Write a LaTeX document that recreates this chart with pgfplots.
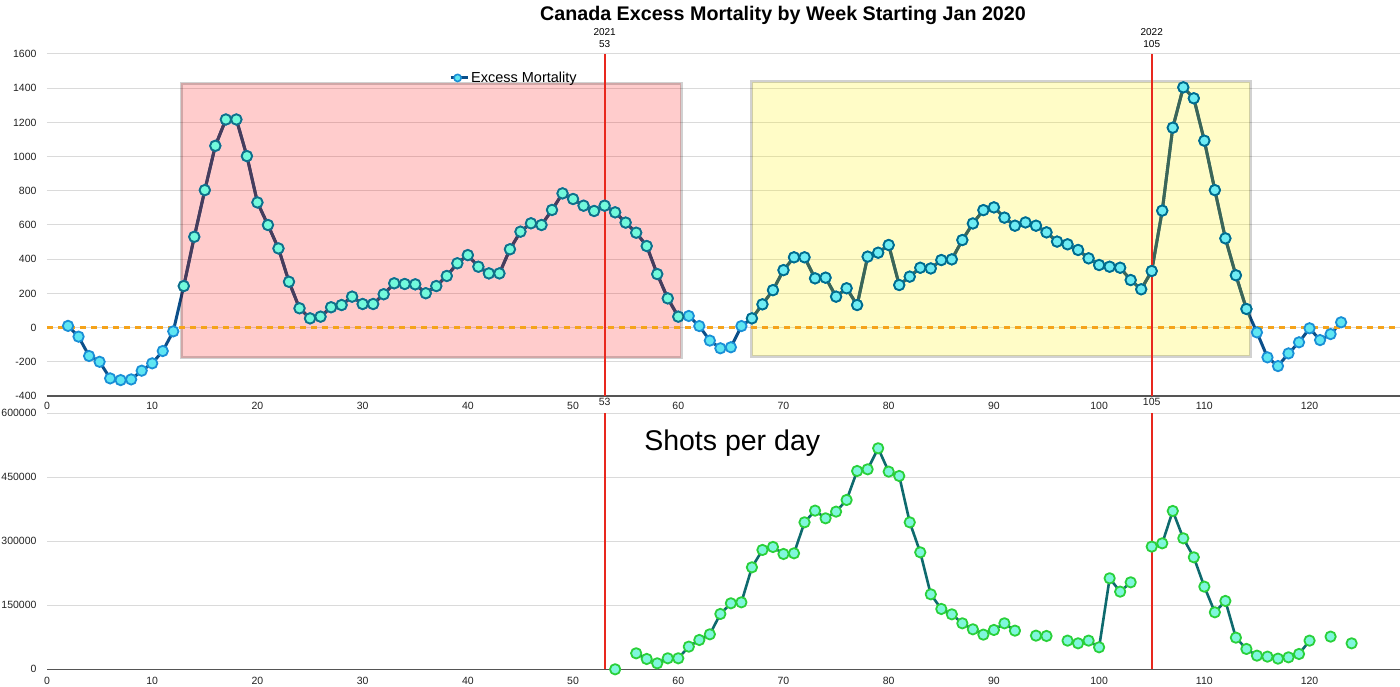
\documentclass[border=0pt]{standalone}
\usepackage{fontspec}
\setmainfont{Liberation Sans}
\usepackage{pgfplots}
\pgfplotsset{compat=1.18}
\usepackage{pgfplotstable}

\definecolor{lineblue}{HTML}{0B4F8A}
\definecolor{cyanfill}{HTML}{5EE6F2}
\definecolor{markedge}{HTML}{1A8FD6}
\definecolor{pinkline}{HTML}{184D75}
\definecolor{pinkfill}{HTML}{72FADC}
\definecolor{pinkedge}{HTML}{107089}
\definecolor{yelline}{HTML}{053F73}
\definecolor{yelfill}{HTML}{6EECF4}
\definecolor{yeledge}{HTML}{006C8D}
\definecolor{shotline}{HTML}{0E6A6E}
\definecolor{shotfill}{HTML}{7FF7DC}
\definecolor{shotedge}{HTML}{2AD03A}
\definecolor{axisgray}{HTML}{555555}
\definecolor{gridgray}{HTML}{DADADA}
\definecolor{tickgray}{HTML}{222222}
\definecolor{vred}{HTML}{E8281E}
\definecolor{zeroorange}{HTML}{F5A31A}

\pgfplotstableread{
w v
2 10
3 -53
4 -166
5 -200
6 -297
7 -307
8 -303
9 -252
10 -209
11 -137
12 -22
13 243
14 531
15 804
16 1063
17 1217
18 1217
19 1003
20 732
21 600
22 463
23 268
24 113
25 54
26 64
27 119
28 132
29 181
30 138
31 138
32 195
33 259
34 255
35 253
36 201
37 243
38 302
39 376
40 424
41 356
42 317
43 317
44 458
45 561
46 610
47 600
48 688
49 785
50 752
51 713
52 682
53 713
54 674
55 614
56 555
57 477
58 313
59 171
60 64
61 68
62 9
63 -76
64 -121
65 -115
66 9
67 54
68 136
69 219
70 336
71 411
72 411
73 288
74 292
75 181
76 230
77 132
78 415
79 438
80 483
81 249
82 298
83 350
84 346
85 395
86 399
87 512
88 609
89 687
90 703
91 643
92 596
93 615
94 596
95 557
96 503
97 487
98 454
99 405
100 366
101 356
102 350
103 278
104 224
105 331
106 684
107 1169
108 1405
109 1341
110 1093
111 804
112 522
113 306
114 109
115 -28
116 -174
117 -225
118 -151
119 -86
120 -4
121 -73
122 -38
123 31
}\mortality

\pgfplotstableread{
w v
54 0
55 nan
56 37500
57 24200
58 14000
59 25800
60 25800
61 53100
62 68750
63 82000
64 129700
65 154700
66 157000
67 239000
68 279700
69 286700
70 270300
71 271900
72 344500
73 371900
74 353900
75 369500
76 396900
77 464800
78 468750
79 518000
80 463300
81 453100
82 344500
83 274200
84 175800
85 141400
86 128900
87 107800
88 93750
89 81250
90 92200
91 107800
92 90600
93 nan
94 78900
95 78100
96 nan
97 67200
98 60900
99 67200
100 51600
101 213300
102 182000
103 203900
104 nan
105 287500
106 295300
107 371100
108 307000
109 262500
110 193750
111 133600
112 160200
113 74200
114 47700
115 32000
116 29700
117 25000
118 28100
119 35900
120 67200
121 nan
122 76600
123 nan
124 60900
}\shots

\pgfplotsset{
  common/.style={
    scale only axis,
    width=1353pt,
    xmin=0, xmax=128.6,
    xtick={0,10,...,120},
    xticklabels={0,10,20,30,40,50,60,70,80,90,100,110,120},
    axis lines=left,
    axis line style={-},
    y axis line style={draw=none},
    x axis line style={draw=axisgray, line width=1.6pt},
    major tick length=0pt,
    ymajorgrids,
    grid style={draw=gridgray, line width=1pt},
    tick label style={font=\fontsize{10.5}{12}\selectfont, text=tickgray},
    yticklabel style={xshift=-7pt},
    scaled y ticks=false,
    clip=false,
    unbounded coords=jump,
  },
  mline/.style 2 args={forget plot, no marks, color=#1, line width=3pt, line join=round,
    restrict x to domain=#2},
  mmarks/.style n args={4}{forget plot, only marks, mark=*, mark size=5.2pt,
    mark options={fill=#1, draw=#2, line width=1.8pt}, restrict x to domain=#3:#4},
}

\begin{document}
\begin{tikzpicture}[x=1pt,y=1pt]

% ---------- top axis
\begin{axis}[common,
  at={(47pt,290pt)}, anchor=south west,
  height=342pt,
  ymin=-400, ymax=1600,
  ytick={-400,-200,...,1600},
  yticklabels={-400,-200,0,200,400,600,800,1000,1200,1400,1600},
  xticklabel style={yshift=-3pt},
  legend style={at={(axis cs:38.2,1460)}, anchor=west, draw=none, fill=none,
    font=\fontsize{14.5}{16}\selectfont, inner sep=0pt,
    legend cell align=left},
  legend image code/.code={
    \path (-2pt,0pt) -- (15pt,0pt);
    \draw[lineblue, line width=2pt] (-1pt,0pt) -- (11pt,0pt);
    \draw[markedge, fill=cyanfill, line width=1.6pt] (5pt,0pt) circle (3.6pt);
  },
]
% lines
\addplot[color=lineblue, line width=3pt, line join=round, no marks] table[x=w, y=v] {\mortality};
\addlegendentry{Excess Mortality}
\addplot[mline={pinkline}{13:60}] table[x=w, y=v] {\mortality};
\addplot[mline={yelline}{67:114}] table[x=w, y=v] {\mortality};
% markers
\addplot[mmarks={cyanfill}{markedge}{0}{130}] table[x=w, y=v] {\mortality};
\addplot[mmarks={pinkfill}{pinkedge}{13}{60}] table[x=w, y=v] {\mortality};
\addplot[mmarks={yelfill}{yeledge}{67}{114}] table[x=w, y=v] {\mortality};

% shaded periods (semi-transparent overlays)
\fill[red, opacity=0.2] (axis cs:12.78,-176) rectangle (axis cs:60.3,1428);
\draw[black, opacity=0.18, line width=3pt] (axis cs:12.78,-176) rectangle (axis cs:60.3,1428);
\fill[yellow, opacity=0.22] (axis cs:66.99,-167) rectangle (axis cs:114.36,1437);
\draw[black, opacity=0.18, line width=3pt] (axis cs:66.99,-167) rectangle (axis cs:114.36,1437);

% zero line
\draw[zeroorange, line width=3pt, dash pattern=on 6pt off 5pt] (axis cs:0,0) -- (axis cs:128.6,0);

% year markers
\draw[vred, line width=2pt] (axis cs:53,-400) -- (axis cs:53,1600);
\draw[vred, line width=2pt] (axis cs:105,-400) -- (axis cs:105,1600);
\node[font=\fontsize{10}{12}\selectfont, align=center, anchor=south, inner sep=1pt, yshift=5pt, text=black] at (axis cs:53,1600) {2021\\53};
\node[font=\fontsize{10}{12}\selectfont, align=center, anchor=south, inner sep=1pt, yshift=5pt, text=black] at (axis cs:105,1600) {2022\\105};
\node[font=\fontsize{10.5}{12}\selectfont, anchor=north, inner sep=1pt, yshift=-1pt, text=tickgray] at (axis cs:53,-400) {53};
\node[font=\fontsize{10.5}{12}\selectfont, anchor=north, inner sep=1pt, yshift=-1pt, text=tickgray] at (axis cs:105,-400) {105};
\end{axis}

% ---------- bottom axis
\begin{axis}[common,
  at={(47pt,16.7pt)}, anchor=south west,
  height=256pt,
  ymin=0, ymax=600000,
  ytick={0,150000,300000,450000,600000},
  yticklabels={0,150000,300000,450000,600000},
  xticklabel style={yshift=-4pt},
]
\addplot[color=shotline, line width=2.6pt, line join=round, mark=*, mark size=5.2pt,
  mark options={fill=shotfill, draw=shotedge, line width=1.8pt}]
  table[x=w, y=v] {\shots};
\draw[vred, line width=2pt] (axis cs:53,0) -- (axis cs:53,600000);
\draw[vred, line width=2pt] (axis cs:105,0) -- (axis cs:105,600000);
\node[font=\fontsize{28.5}{32}\selectfont, anchor=base west, inner sep=0pt] at (axis cs:56.75,512300) {Shots per day};
\end{axis}

\node[font=\bfseries\fontsize{19.7}{22}\selectfont, anchor=center] at (783pt,671pt) {Canada Excess Mortality by Week Starting Jan 2020};

\pgfresetboundingbox
\useasboundingbox (0pt,0pt) rectangle (1400pt,686pt);
\end{tikzpicture}
\end{document}
